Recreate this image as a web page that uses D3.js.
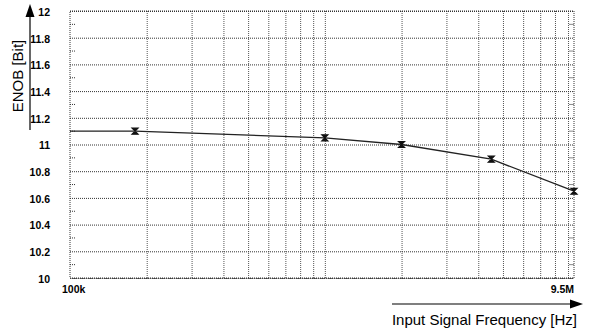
<!DOCTYPE html>
<html>
<head>
<meta charset="utf-8">
<script src="https://cdn.jsdelivr.net/npm/d3@7"></script>
<style>
  body { margin: 0; background: #fff; }
  svg { display: block; font-family: "Liberation Sans", Arial, sans-serif; }
  .grid line { stroke: #333; stroke-dasharray: 1,1; }
  .grid.vert line { stroke: #555; }
  .grid .domain { display: none; }
  .ylab text { font-weight: bold; font-size: 10.5px; fill: #000; }
  .ylab .domain { display: none; }
</style>
</head>
<body>
<div id="chart"></div>
<script>
// measured points
const freqHz = [180e3, 1e6, 2e6, 4.5e6, 9.5e6];
const enobBits = [11.1, 11.05, 11.0, 10.89, 10.65];

// axis ticks
const yTicks = [10, 10.2, 10.4, 10.6, 10.8, 11, 11.2, 11.4, 11.6, 11.8, 12];
const yTickLabels = ["10", "10.2", "10.4", "10.6", "10.8", "11", "11.2", "11.4", "11.6", "11.8", "12"];
const yMinor = [10.1, 10.3, 10.5, 10.7, 10.9, 11.1, 11.3, 11.5, 11.7, 11.9];
const xGrid = [2e5, 3e5, 4e5, 5e5, 6e5, 7e5, 8e5, 9e5, 1e6, 2e6, 3e6, 4e6, 5e6, 6e6, 7e6, 8e6, 9e6];
const xEnds = [1e5, 9.5e6];
const xEndLabels = ["100k", "9.5M"];

const width = 590, height = 330;
const margin = {top: 11, right: 16, bottom: 52, left: 70};
const plotW = width - margin.left - margin.right;
const plotH = height - margin.top - margin.bottom;

const xScale = d3.scaleLog().domain(xEnds).range([margin.left, margin.left + plotW]);
const yScale = d3.scaleLinear().domain([10, 12]).range([margin.top + plotH, margin.top]);

const svg = d3.select("#chart").append("svg")
    .attr("width", width)
    .attr("height", height);

// vertical grid
svg.append("g")
    .attr("class", "grid vert")
    .attr("transform", `translate(0, ${margin.top + plotH})`)
    .call(d3.axisBottom(xScale).tickValues(xGrid).tickSize(-plotH).tickFormat(""));

// horizontal grid
svg.append("g")
    .attr("class", "grid")
    .attr("transform", `translate(${margin.left}, 0)`)
    .call(d3.axisLeft(yScale).tickValues(yTicks).tickSize(-plotW).tickFormat(""));

// minor ticks, left and right side
svg.append("g").selectAll("line")
    .data(yMinor)
    .enter().append("line")
    .attr("x1", margin.left).attr("x2", margin.left + 5)
    .attr("y1", d => yScale(d)).attr("y2", d => yScale(d))
    .attr("stroke", "#333").attr("stroke-dasharray", "1,1");

svg.append("g").selectAll("line")
    .data(yMinor)
    .enter().append("line")
    .attr("x1", margin.left + plotW - 5).attr("x2", margin.left + plotW)
    .attr("y1", d => yScale(d)).attr("y2", d => yScale(d))
    .attr("stroke", "#888");

// frame
svg.append("rect")
    .attr("x", margin.left).attr("y", margin.top)
    .attr("width", plotW).attr("height", plotH)
    .attr("fill", "none")
    .attr("stroke", "#333")
    .attr("stroke-dasharray", "1,1");

svg.append("line")
    .attr("x1", margin.left).attr("x2", margin.left + plotW)
    .attr("y1", yScale(10) + 0.5).attr("y2", yScale(10) + 0.5)
    .attr("stroke", "#444").attr("stroke-dasharray", "1,0.6");

// y tick labels
svg.append("g")
    .attr("class", "ylab")
    .attr("transform", `translate(${margin.left}, 1)`)
    .call(d3.axisLeft(yScale).tickValues(yTicks).tickFormat((d, i) => yTickLabels[i]).tickSize(0).tickPadding(20));

// x end labels
svg.append("g").selectAll("text")
    .data(xEnds)
    .enter().append("text")
    .attr("x", (d, i) => i === 0 ? xScale(d) - 8 : xScale(d))
    .attr("y", margin.top + plotH + 15)
    .attr("text-anchor", (d, i) => i === 0 ? "start" : "end")
    .style("font-weight", "bold")
    .style("font-size", "10.5px")
    .text((d, i) => xEndLabels[i]);

// line
const lineData = [[xEnds[0], enobBits[0]]].concat(freqHz.map((f, i) => [f, enobBits[i]]));
svg.append("path")
    .datum(lineData)
    .attr("fill", "none")
    .attr("stroke", "#222")
    .attr("stroke-width", 1.3)
    .attr("d", d3.line().x(d => xScale(d[0])).y(d => yScale(d[1])));

// markers
svg.append("g").selectAll("path")
    .data(freqHz)
    .enter().append("path")
    .attr("transform", (d, i) => `translate(${xScale(d)}, ${yScale(enobBits[i])})`)
    .attr("d", "M-3,-3H3L-3,3H3Z M0,-3.5V3.5")
    .attr("fill", "#111")
    .attr("stroke", "#111")
    .attr("stroke-width", 1.2);

// y axis arrow
svg.append("line")
    .attr("x1", 30).attr("x2", 30).attr("y1", 16).attr("y2", 130)
    .attr("stroke", "#000").attr("stroke-width", 1.2);
svg.append("path")
    .attr("d", "M30,4L34.5,17H25.5Z")
    .attr("fill", "#000");

svg.append("text")
    .attr("transform", "translate(23, 76) rotate(-90)")
    .attr("text-anchor", "middle")
    .style("font-size", "15px")
    .text("ENOB [Bit]");

// x axis arrow
svg.append("line")
    .attr("x1", 392).attr("x2", 574).attr("y1", 304).attr("y2", 304)
    .attr("stroke", "#000").attr("stroke-width", 1.2);
svg.append("path")
    .attr("d", "M583,304L570,299.5V308.5Z")
    .attr("fill", "#000");

svg.append("text")
    .attr("x", 577)
    .attr("y", 325)
    .attr("text-anchor", "end")
    .style("font-size", "15px")
    .text("Input Signal Frequency [Hz]");
</script>
</body>
</html>
